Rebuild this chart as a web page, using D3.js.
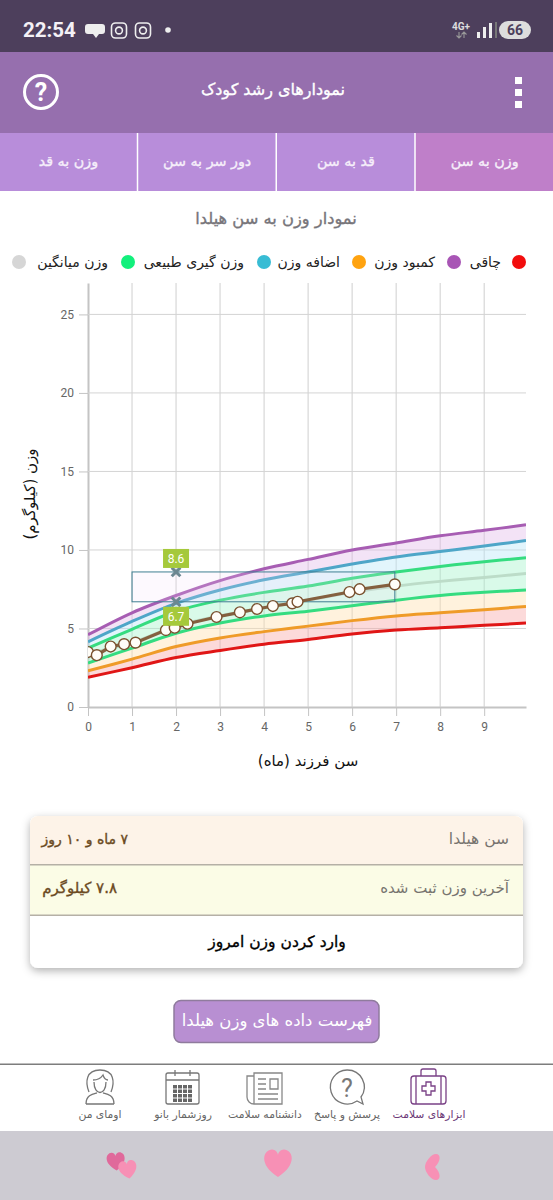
<!DOCTYPE html>
<html>
<head>
<meta charset="utf-8">
<script src="https://d3js.org/d3.v7.min.js"></script>
<style>
html, body {margin: 0; padding: 0; background: #fff;}
svg {display: block;}
text {font-family: "DejaVu Sans", sans-serif;}
</style>
</head>
<body>
<div id="page"></div>
<script>
// growth curves, month by month
var months = [0, 1, 2, 3, 4, 5, 6, 7, 8, 9, 9.95];
var obese = [4.6, 6.0, 7.1, 8.05, 8.8, 9.4, 10.0, 10.45, 10.9, 11.25, 11.6];
var over = [4.15, 5.45, 6.6, 7.45, 8.1, 8.6, 9.1, 9.55, 9.9, 10.25, 10.6];
var upper = [3.75, 4.95, 6.1, 6.8, 7.3, 7.7, 8.2, 8.6, 8.95, 9.25, 9.5];
var mean = [3.4, 4.1, 5.15, 5.8, 6.3, 6.8, 7.3, 7.7, 8.0, 8.25, 8.5];
var lower = [2.8, 3.75, 4.7, 5.35, 5.8, 6.1, 6.45, 6.8, 7.1, 7.3, 7.45];
var under = [2.3, 3.05, 3.85, 4.4, 4.8, 5.15, 5.5, 5.8, 6.0, 6.2, 6.4];
var low = [1.9, 2.5, 3.15, 3.6, 4.0, 4.3, 4.65, 4.9, 5.05, 5.2, 5.35];

// recorded weights
var childAge = [0, 0.2, 0.515, 0.82, 1.08, 1.77, 1.97, 2.26, 2.92, 3.45, 3.84, 4.2, 4.64, 4.76, 5.94, 6.17, 6.97];
var childWeight = [3.5, 3.3, 3.85, 4.0, 4.1, 4.9, 5.05, 5.3, 5.73, 6.03, 6.24, 6.43, 6.6, 6.7, 7.32, 7.5, 7.81];

var xTicks = [0, 1, 2, 3, 4, 5, 6, 7, 8, 9];
var yTicks = [0, 5, 10, 15, 20, 25];

var rangeAge = [1, 6.97];
var rangeMarkAge = 2;
var rangeWeight = [6.7, 8.6];

var tabs = ["وزن به سن", "قد به سن", "دور سر به سن", "وزن به قد"];
var legendNames = ["چاقی", "کمبود وزن", "اضافه وزن", "وزن گیری طبیعی", "وزن میانگین"];
var legendColors = ["#f20d0d", "#a855b5", "#ffa310", "#38bcd4", "#12f07c", "#d6d6d6"];
var navNames = ["ابزارهای سلامت", "پرسش و پاسخ", "دانشنامه سلامت", "روزشمار بانو", "اومای من"];

var svg = d3.select("#page").append("svg").attr("width", 553).attr("height", 1200);

// heavy = thin outline on regular weight, DejaVu bold is too wide here
function label(x, y, str, size, fill, anchor, heavy) {
    var t = svg.append("text")
        .attr("x", x).attr("y", y)
        .attr("font-size", size)
        .attr("fill", fill)
        .attr("text-anchor", anchor || "middle")
        .text(str);
    if (heavy) t.attr("stroke", fill).attr("stroke-width", 0.35);
    return t;
}

// status bar and header
svg.append("rect").attr("width", 553).attr("height", 52).attr("fill", "#4d3f5c");
svg.append("rect").attr("y", 52).attr("width", 553).attr("height", 81).attr("fill", "#966fae");
svg.append("text").attr("x", 23).attr("y", 37).attr("font-size", 20.5).attr("font-weight", "bold")
    .attr("fill", "#f4f1f6").style("font-family", "Roboto").text("22:54");
svg.append("path").attr("d", "M88 24h14a3 3 0 0 1 3 3v4a3 3 0 0 1-3 3h-3l-3 4l-3-4h-5a3 3 0 0 1-3-3v-4a3 3 0 0 1 3-3Z").attr("fill", "#eee");
[119, 143].forEach(function(x) {
    svg.append("rect").attr("x", x - 7.5).attr("y", 23).attr("width", 15).attr("height", 15).attr("rx", 4)
        .attr("fill", "none").attr("stroke", "#eee").attr("stroke-width", 1.6);
    svg.append("circle").attr("cx", x).attr("cy", 30.5).attr("r", 3.4)
        .attr("fill", "none").attr("stroke", "#eee").attr("stroke-width", 1.6);
});
svg.append("circle").attr("cx", 168).attr("cy", 30).attr("r", 2.8).attr("fill", "#eee");
svg.append("text").attr("x", 452).attr("y", 30).attr("font-size", 10).attr("font-weight", "bold")
    .attr("fill", "#ddd").style("font-family", "Roboto").text("4G+");
svg.append("path").attr("d", "M459 32v6M456.5 35.5l2.5 2.5l2.5-2.5M464 38v-6M461.5 34.5l2.5-2.5l2.5 2.5")
    .attr("fill", "none").attr("stroke", "#999").attr("stroke-width", 1.1);
[[477, 6], [483, 11], [489, 15]].forEach(function(b) {
    svg.append("rect").attr("x", b[0]).attr("y", 38 - b[1]).attr("width", 3).attr("height", b[1]).attr("fill", "#eee");
});
svg.append("rect").attr("x", 495).attr("y", 22).attr("width", 2).attr("height", 16).attr("fill", "#777");
svg.append("rect").attr("x", 499).attr("y", 21).attr("width", 32).attr("height", 18).attr("rx", 9).attr("fill", "#ddd");
svg.append("text").attr("x", 515).attr("y", 35).attr("font-size", 14).attr("font-weight", "bold")
    .attr("text-anchor", "middle").attr("fill", "#4d3f5c").style("font-family", "Roboto").text("66");

svg.append("circle").attr("cx", 41).attr("cy", 92).attr("r", 16.5)
    .attr("fill", "none").attr("stroke", "#fff").attr("stroke-width", 3);
svg.append("text").attr("x", 41).attr("y", 101).attr("font-size", 25).attr("font-weight", "bold")
    .attr("text-anchor", "middle").attr("fill", "#fff").style("font-family", "Roboto").text("?");
label(273, 95, "نمودارهای رشد کودک", 16, "#fff", "middle", true);
[80, 92, 104].forEach(function(y) {
    svg.append("rect").attr("x", 515).attr("y", y - 3).attr("width", 7).attr("height", 7).attr("fill", "#fff");
});

// tabs
var tabX = d3.scaleBand().domain(d3.range(4)).range([553, -2]);
svg.selectAll(".tab").data(tabs).enter().append("rect")
    .attr("class", "tab")
    .attr("x", function(d, i) {return tabX(i) + 1.5})
    .attr("y", 133)
    .attr("width", tabX.bandwidth() - 1.5)
    .attr("height", 58)
    .attr("fill", function(d, i) {return i == 0 ? "#bf7fc9" : "#b88dda"});
tabs.forEach(function(t, i) {
    label(tabX(i) + tabX.bandwidth() / 2 + 1, 166, t, 14.3, "#f6effa", "middle", true);
});

// chart
label(276, 224, "نمودار وزن به سن هیلدا", 16.3, "#77757a", "middle", true);

legendNames.forEach(function(t, i) {
    label([501, 435, 340, 244, 108][i], 267, t, 14, "#222", "end");
});
svg.selectAll(".dot").data(legendColors).enter().append("circle")
    .attr("class", "dot")
    .attr("cx", function(d, i) {return [519, 454, 359, 264, 128, 19][i]})
    .attr("cy", 262).attr("r", 7)
    .attr("fill", function(d) {return d});

var margin = {top: 283, right: 27, bottom: 493, left: 88},
    height = 1200 - margin.top - margin.bottom,
    width = 553 - margin.left - margin.right;

var xScale = d3.scaleLinear().domain([0, 9.95]).range([0, width]);
var yScale = d3.scaleLinear().domain([0, 27]).range([height, 0]);

var defs = svg.append("defs");
defs.append("clipPath").attr("id", "plotClip").append("rect")
    .attr("width", width).attr("height", height);

var g = svg.append("g").attr("transform", "translate(" + margin.left + "," + margin.top + ")");

var yAxis = d3.axisLeft(yScale).tickValues(yTicks).tickSize(9).tickSizeOuter(0).tickPadding(5);
var xAxis = d3.axisBottom(xScale).tickValues(xTicks).tickSize(9).tickSizeOuter(0).tickPadding(6);

var yGuide = g.append("g").call(yAxis);
var xGuide = g.append("g").attr("transform", "translate(0," + height + ")").call(xAxis);
[yGuide, xGuide].forEach(function(a) {
    a.selectAll("text").attr("fill", "#666").style("font-family", "Roboto").attr("font-size", 12);
    a.selectAll("line").attr("stroke", "#c4c4c4");
    a.select(".domain").attr("stroke", "#c4c4c4").attr("stroke-width", 2);
});

g.selectAll(".gridx").data(xTicks.slice(1)).enter().append("line")
    .attr("class", "gridx")
    .attr("x1", function(d) {return xScale(d)})
    .attr("x2", function(d) {return xScale(d)})
    .attr("y1", 0).attr("y2", height)
    .attr("stroke", "#cfcfcf").attr("stroke-width", 1);
g.selectAll(".gridy").data(yTicks.slice(1)).enter().append("line")
    .attr("class", "gridy")
    .attr("x1", 0).attr("x2", width)
    .attr("y1", function(d) {return yScale(d)})
    .attr("y2", function(d) {return yScale(d)})
    .attr("stroke", "#d4d4d4").attr("stroke-width", 1);

var plot = g.append("g").attr("clip-path", "url(#plotClip)");

// bands
var bands = [
    [low, under, "#f9a6a6"],
    [under, lower, "#ffdfae"],
    [lower, upper, "#a4f3cb"],
    [upper, over, "#b9e6f7"],
    [over, obese, "#e3bdea"]
];
bands.forEach(function(b) {
    var area = d3.area()
        .x(function(d, i) {return xScale(months[i])})
        .y0(function(d, i) {return yScale(b[0][i])})
        .y1(function(d, i) {return yScale(b[1][i])})
        .curve(d3.curveCatmullRom);
    plot.append("path").datum(months).attr("d", area).attr("fill", b[2]).attr("fill-opacity", 0.42);
});

var curves = [
    [low, "#e01616"],
    [under, "#ef9b28"],
    [lower, "#35dc80"],
    [mean, "#bcdcc8"],
    [upper, "#35dc80"],
    [over, "#4ea6c8"],
    [obese, "#a75db3"]
];
curves.forEach(function(c) {
    var line = d3.line()
        .x(function(d, i) {return xScale(months[i])})
        .y(function(d) {return yScale(d)})
        .curve(d3.curveCatmullRom);
    plot.append("path").datum(c[0]).attr("d", line)
        .attr("fill", "none").attr("stroke", c[1]).attr("stroke-width", 3);
});

// highlighted range of healthy weight at this age
plot.append("rect")
    .attr("x", xScale(rangeAge[0]))
    .attr("y", yScale(rangeWeight[1]))
    .attr("width", xScale(rangeAge[1]) - xScale(rangeAge[0]))
    .attr("height", yScale(rangeWeight[0]) - yScale(rangeWeight[1]))
    .attr("fill", "#f3dcfa").attr("fill-opacity", 0.18)
    .attr("stroke", "#3f7f92").attr("stroke-width", 1);

// child line
var childLine = d3.line()
    .x(function(d, i) {return xScale(childAge[i])})
    .y(function(d) {return yScale(d)});
plot.append("path").datum(childWeight).attr("d", childLine)
    .attr("fill", "none").attr("stroke", "#84603f").attr("stroke-width", 3.2);
plot.selectAll(".pt").data(childWeight).enter().append("circle")
    .attr("class", "pt")
    .attr("cx", function(d, i) {return xScale(childAge[i])})
    .attr("cy", function(d) {return yScale(d)})
    .attr("r", 5.4)
    .attr("fill", "#fffdf8").attr("stroke", "#7a5230").attr("stroke-width", 1.4);

// markers and value tags
rangeWeight.forEach(function(w, i) {
    var px = xScale(rangeMarkAge), py = yScale(w);
    g.append("path").attr("d", d3.symbol(d3.symbolX, 50)())
        .attr("transform", "translate(" + px + "," + py + ")")
        .attr("fill", "none").attr("stroke", "#6c8791").attr("stroke-width", 3);
    var ty = i == 0 ? py + 5 : py - 23;
    g.append("rect").attr("x", px - 13).attr("y", ty).attr("width", 26).attr("height", 19).attr("fill", "#a5c93b");
    g.append("text").attr("x", px).attr("y", ty + 14).attr("text-anchor", "middle")
        .attr("font-size", 12).attr("fill", "#fff").style("font-family", "Roboto").text(w.toFixed(1));
});

label(308, 766, "سن فرزند (ماه)", 15, "#111");
svg.append("text").attr("transform", "translate(35,494) rotate(-90)")
    .attr("text-anchor", "middle").attr("font-size", 15).attr("fill", "#111").text("وزن (کیلوگرم)");

// info card
var shadow = defs.append("filter").attr("id", "shadow").attr("x", "-10%").attr("y", "-10%").attr("width", "120%").attr("height", "125%");
shadow.append("feDropShadow").attr("dx", 0).attr("dy", 3).attr("stdDeviation", 4).attr("flood-color", "#000").attr("flood-opacity", 0.3);
svg.append("rect").attr("x", 30).attr("y", 816).attr("width", 493).attr("height", 152).attr("rx", 8)
    .attr("fill", "#fff").attr("filter", "url(#shadow)");
svg.append("path").attr("d", "M30 865V824a8 8 0 0 1 8-8H515a8 8 0 0 1 8 8V865Z").attr("fill", "#fdf3e8");
svg.append("rect").attr("x", 30).attr("y", 865).attr("width", 493).attr("height", 50).attr("fill", "#fbfce6");
svg.append("rect").attr("x", 30).attr("y", 864).attr("width", 493).attr("height", 1.5).attr("fill", "#b5b0a6");
svg.append("rect").attr("x", 30).attr("y", 914.5).attr("width", 493).attr("height", 1.5).attr("fill", "#b5b0a6");
label(509, 844, "سن هیلدا", 15.5, "#77746f", "end");
label(128, 844, "۷ ماه و ۱۰ روز", 14, "#6b4a22", "start", true).style("direction", "rtl");
label(509, 893, "آخرین وزن ثبت شده", 15, "#77746f", "end");
label(117, 893, "۷.۸ کیلوگرم", 15, "#6b4a22", "start", true).style("direction", "rtl");
label(277, 947, "وارد کردن وزن امروز", 15.5, "#000", "middle", true);

svg.append("rect").attr("x", 174).attr("y", 1000.5).attr("width", 205).attr("height", 42).attr("rx", 7)
    .attr("fill", "#b88fd2").attr("stroke", "#8f7b9d").attr("stroke-width", 1.5);
label(277, 1026, "فهرست داده های وزن هیلدا", 16.5, "#fff");

// bottom nav
svg.append("rect").attr("y", 1063.5).attr("width", 553).attr("height", 1.5).attr("fill", "#7d7d7d");
svg.append("rect").attr("y", 1131).attr("width", 553).attr("height", 69).attr("fill", "#cdcbd2");
navNames.forEach(function(t, i) {
    label([429, 347, 265, 183, 100][i], 1118, t, 10.8, i == 0 ? "#6d3a78" : "#666");
});

function stroke(sel, col) {
    return sel.attr("fill", "none").attr("stroke", col).attr("stroke-width", 1.3);
}
// kit
stroke(svg.append("rect").attr("x", 411).attr("y", 1076).attr("width", 35).attr("height", 28).attr("rx", 3), "#7a4186");
stroke(svg.append("path").attr("d", "M421 1076v-5a2 2 0 0 1 2-2h11a2 2 0 0 1 2 2v5M416 1076v28M441 1076v28"), "#7a4186");
stroke(svg.append("path").attr("d", "M426 1082h5v4h4v5h-4v4h-5v-4h-4v-5h4Z"), "#7a4186");
// question
stroke(svg.append("path").attr("d", "M347 1070a17 17 0 1 0 10 31l6 3l-2-7a17 17 0 0 0-14-27Z"), "#777");
svg.append("text").attr("x", 347).attr("y", 1097).attr("text-anchor", "middle").attr("font-size", 25)
    .attr("fill", "#777").style("font-family", "Roboto").text("?");
// newspaper
stroke(svg.append("path").attr("d", "M254 1073h28v31h-28a7 7 0 0 1-7-7v-21h7ZM254 1073v31"), "#888");
stroke(svg.append("path").attr("d", "M258 1079h8M258 1084h8M258 1089h8M258 1094h20M258 1099h20M270 1079h8v10h-8Z"), "#888");
// calendar
stroke(svg.append("rect").attr("x", 166).attr("y", 1073).attr("width", 33).attr("height", 31).attr("rx", 2), "#777");
stroke(svg.append("path").attr("d", "M166 1080h33M175 1070v6M190 1070v6"), "#777");
svg.selectAll(".cal").data(d3.range(16)).enter().append("rect")
    .attr("class", "cal")
    .attr("x", function(d) {return 173 + (d % 4) * 5})
    .attr("y", function(d) {return 1085 + Math.floor(d / 4) * 4.5})
    .attr("width", 4).attr("height", 3.5).attr("fill", "#666");
// avatar
stroke(svg.append("path").attr("d", "M89 1092c-4-10-3-22 11-22s15 12 11 22M93 1080c4 0 8-2 10-5c1 3 3 5 5 5M94 1082c0 14 12 14 12 0M86 1104c0-9 7-10 11-11M114 1104c0-9-7-10-11-11M86 1104h28"), "#777");

// hearts
var heart = "M0 9C-14 0 -10 -10 -4 -10C-2 -10 0 -8 0 -6C0 -8 2 -10 4 -10C10 -10 14 0 0 9Z";
svg.append("path").attr("d", heart).attr("transform", "translate(116,1162) rotate(-5) scale(0.95)").attr("fill", "#e0699b");
svg.append("path").attr("d", heart).attr("transform", "translate(128,1170) rotate(-10) scale(0.95)").attr("fill", "#f790b5");
svg.append("path").attr("d", heart).attr("transform", "translate(278,1164) scale(1.45)").attr("fill", "#f790b5");
svg.append("path").attr("d", "M436 1154C431 1154 425 1162 425 1167C425 1172 431 1180 436 1180C441 1180 441 1173 435 1167C441 1161 441 1154 436 1154Z").attr("fill", "#f790b5");
</script>
</body>
</html>
